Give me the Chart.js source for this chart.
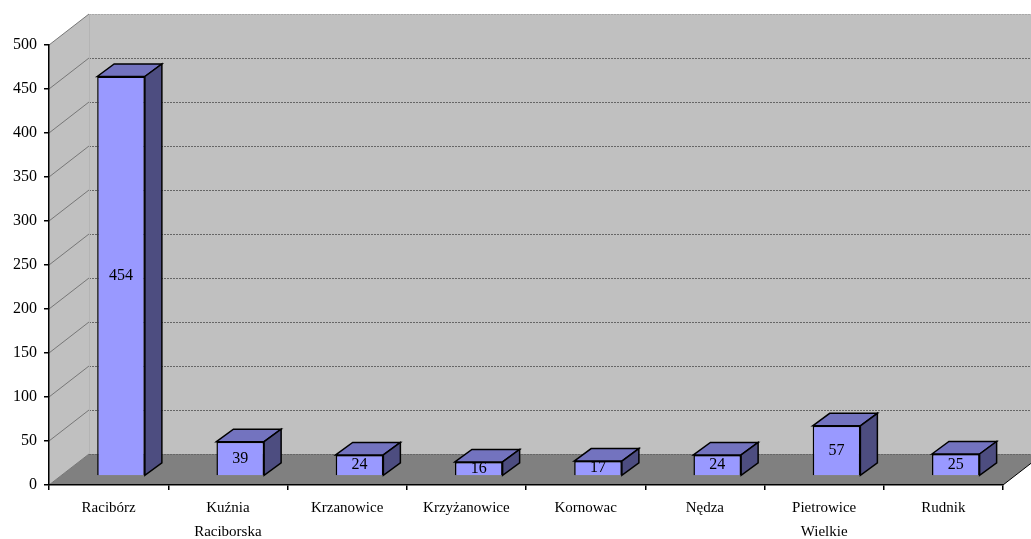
<!DOCTYPE html>
<html>
<head>
<meta charset="utf-8">
<style>
  html, body { margin: 0; padding: 0; background: #fff; overflow: hidden; }
  canvas { display: block; }
</style>
<script src="https://cdn.jsdelivr.net/npm/chart.js@4"></script>
</head>
<body>
<canvas id="wykres" width="1031" height="539"></canvas>
<script>
// Dane
const gminy = ['Racibórz', ['Kuźnia', 'Raciborska'], 'Krzanowice', 'Krzyżanowice', 'Kornowac', 'Nędza', ['Pietrowice', 'Wielkie'], 'Rudnik'];
const wartosci = [454, 39, 24, 16, 17, 24, 57, 25];
const osY = { min: 0, max: 500, krok: 50 };

const czcionka = '"Liberation Serif", "Times New Roman", serif';

// Glebokosc "3D" sciany i slupkow
const sciana = { dx: 40, dy: -31 };
const przesuniecie = { dx: 12.4, dy: -9 };
const slupek = { dx: 17, dy: -12.5 };

function wielokat(ctx, punkty, kolor, linia, grubosc) {
  ctx.beginPath();
  punkty.forEach((p, i) => (i ? ctx.lineTo(p[0], p[1]) : ctx.moveTo(p[0], p[1])));
  ctx.closePath();
  if (kolor) { ctx.fillStyle = kolor; ctx.fill(); }
  if (linia) { ctx.strokeStyle = linia; ctx.lineWidth = grubosc || 1; ctx.stroke(); }
}

// Sciany, podloga i linie siatki rysowane pod osiami
const tlo3d = {
  id: 'tlo3d',
  beforeDraw(chart) {
    const { ctx, chartArea: a, scales: { y } } = chart;
    const d = sciana;
    ctx.save();
    wielokat(ctx, [[a.left, a.top], [a.left + d.dx, a.top + d.dy], [a.right + d.dx, a.top + d.dy], [a.right + d.dx, a.bottom + d.dy], [a.left + d.dx, a.bottom + d.dy], [a.left, a.bottom]], '#c0c0c0');
    wielokat(ctx, [[a.left, a.bottom], [a.left + d.dx, a.bottom + d.dy], [a.right + d.dx, a.bottom + d.dy], [a.right, a.bottom]], '#808080');

    y.ticks.forEach((t) => {
      const py = y.getPixelForValue(t.value);
      ctx.strokeStyle = '#777';
      ctx.lineWidth = 1;
      ctx.beginPath();
      ctx.moveTo(a.left, py);
      ctx.lineTo(a.left + d.dx, py + d.dy);
      ctx.stroke();
      ctx.strokeStyle = t.value === osY.max ? '#a8a8a8' : '#666';
      ctx.setLineDash([2, 1]);
      ctx.beginPath();
      ctx.moveTo(a.left + d.dx, Math.round(py + d.dy) + 0.5);
      ctx.lineTo(a.right + d.dx, Math.round(py + d.dy) + 0.5);
      ctx.stroke();
      ctx.setLineDash([]);
    });
    // krawedz rogu i prawa krawedz podlogi
    ctx.strokeStyle = '#b4b4b4';
    ctx.beginPath();
    ctx.moveTo(a.left + d.dx + 0.5, a.top + d.dy);
    ctx.lineTo(a.left + d.dx + 0.5, a.bottom + d.dy);
    ctx.stroke();
    ctx.strokeStyle = '#000';
    ctx.beginPath();
    ctx.moveTo(a.right, a.bottom);
    ctx.lineTo(a.right + d.dx, a.bottom + d.dy);
    ctx.stroke();
    ctx.restore();
  }
};

// Slupki przesuniete w glab, z bokiem, gora i etykieta
const slupki3d = {
  id: 'slupki3d',
  beforeDatasetsDraw(chart) {
    chart.ctx.save();
    chart.ctx.translate(przesuniecie.dx, przesuniecie.dy);
  },
  afterDatasetsDraw(chart) {
    const { ctx } = chart;
    const s = slupek;
    chart.getDatasetMeta(0).data.forEach((el, i) => {
      const l = el.x - el.width / 2;
      const r = el.x + el.width / 2;
      wielokat(ctx, [[l, el.y], [l + s.dx, el.y + s.dy], [r + s.dx, el.y + s.dy], [r, el.y]], '#7373bf', '#000', 1.5);
      wielokat(ctx, [[r, el.y], [r + s.dx, el.y + s.dy], [r + s.dx, el.base + s.dy], [r, el.base]], '#4d4d80', '#000', 1.5);
      ctx.fillStyle = '#000';
      ctx.font = '16px ' + czcionka;
      ctx.textAlign = 'center';
      ctx.textBaseline = 'middle';
      ctx.fillText(wartosci[i], el.x, (el.y + el.base) / 2);
    });
    ctx.restore();
  }
};

new Chart(document.getElementById('wykres'), {
  type: 'bar',
  data: {
    labels: gminy,
    datasets: [{
      data: wartosci,
      backgroundColor: '#9999ff',
      borderColor: '#000',
      borderWidth: 1.5,
      barPercentage: 1,
      categoryPercentage: 0.4,
      clip: false
    }]
  },
  options: {
    responsive: false,
    animation: false,
    layout: { padding: { top: 45, right: 28 } },
    plugins: { legend: { display: false }, tooltip: { enabled: false } },
    scales: {
      x: {
        afterFit(scale) { scale.height = 54; },
        grid: { drawOnChartArea: false, tickColor: '#000', tickLength: 5, lineWidth: 1.5 },
        border: { color: '#000', width: 1.5 },
        ticks: { color: '#000', font: { family: czcionka, size: 15, lineHeight: 1.6 }, maxRotation: 0, autoSkip: false, padding: 6 }
      },
      y: {
        min: osY.min,
        max: osY.max,
        afterFit(scale) { scale.width = 49; },
        grid: { drawOnChartArea: false, tickColor: '#000', tickLength: 5, lineWidth: 1.5 },
        border: { color: '#000', width: 1.5 },
        ticks: { stepSize: osY.krok, color: '#000', font: { family: czcionka, size: 16 }, padding: 7 }
      }
    }
  },
  plugins: [tlo3d, slupki3d]
});
</script>
</body>
</html>
